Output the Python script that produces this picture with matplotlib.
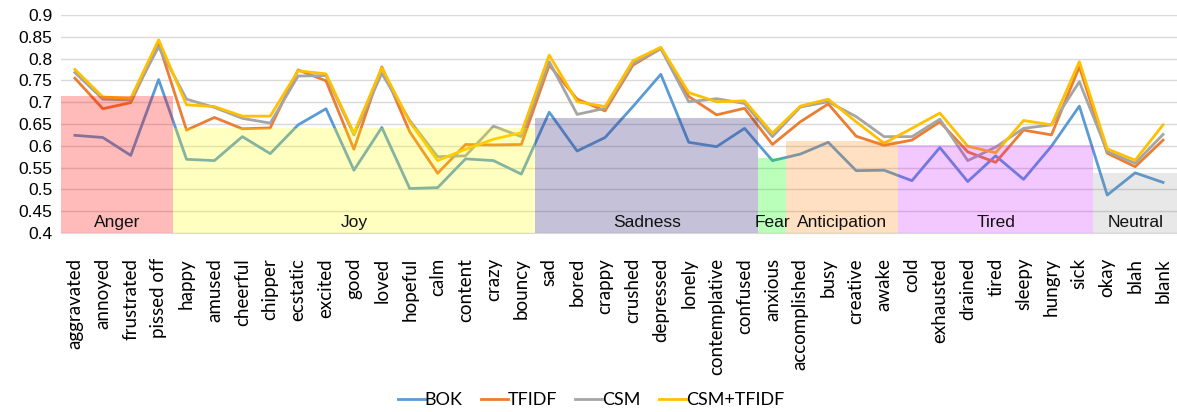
import matplotlib
matplotlib.use("Agg")
import matplotlib.pyplot as plt
from matplotlib.patches import Rectangle

categories = ["aggravated", "annoyed", "frustrated", "pissed off",
              "happy", "amused", "cheerful", "chipper", "ecstatic", "excited", "good", "loved",
              "hopeful", "calm", "content", "crazy", "bouncy",
              "sad", "bored", "crappy", "crushed", "depressed", "lonely", "contemplative", "confused",
              "anxious",
              "accomplished", "busy", "creative", "awake",
              "cold", "exhausted", "drained", "tired", "sleepy", "hungry", "sick",
              "okay", "blah", "blank"]

bok = [0.624, 0.619, 0.578, 0.752,
       0.569, 0.566, 0.621, 0.582, 0.648, 0.685, 0.544, 0.642,
       0.502, 0.504, 0.570, 0.566, 0.535,
       0.677, 0.588, 0.619, 0.690, 0.764, 0.608, 0.598, 0.640,
       0.566,
       0.581, 0.608, 0.543, 0.544,
       0.520, 0.596, 0.518, 0.577, 0.523, 0.599, 0.691,
       0.487, 0.538, 0.516]

tfidf = [0.755, 0.685, 0.699, 0.835,
         0.636, 0.665, 0.639, 0.641, 0.774, 0.749, 0.592, 0.781,
         0.632, 0.537, 0.603, 0.602, 0.603,
         0.785, 0.707, 0.680, 0.785, 0.823, 0.713, 0.671, 0.686,
         0.603,
         0.655, 0.696, 0.622, 0.601,
         0.613, 0.655, 0.586, 0.562, 0.636, 0.625, 0.781,
         0.583, 0.552, 0.613]

csm = [0.768, 0.707, 0.705, 0.827,
       0.707, 0.688, 0.663, 0.652, 0.760, 0.761, 0.625, 0.766,
       0.658, 0.575, 0.577, 0.645, 0.621,
       0.793, 0.672, 0.686, 0.789, 0.823, 0.701, 0.708, 0.697,
       0.621,
       0.689, 0.701, 0.667, 0.621,
       0.621, 0.661, 0.566, 0.597, 0.640, 0.648, 0.747,
       0.587, 0.560, 0.626]

csm_tfidf = [0.775, 0.712, 0.709, 0.843,
             0.694, 0.690, 0.668, 0.668, 0.772, 0.765, 0.629, 0.779,
             0.655, 0.566, 0.592, 0.615, 0.630,
             0.808, 0.701, 0.690, 0.795, 0.826, 0.722, 0.701, 0.703,
             0.629,
             0.691, 0.707, 0.655, 0.606,
             0.640, 0.675, 0.599, 0.584, 0.658, 0.648, 0.793,
             0.593, 0.567, 0.648]

groups = ["Anger", "Joy", "Sadness", "Fear", "Anticipation", "Tired", "Neutral"]
group_sizes = [4, 13, 8, 1, 4, 7, 3]
group_tops = [0.715, 0.641, 0.664, 0.573, 0.612, 0.601, 0.538]
group_colors = [((1.0, 0.0, 0.0), 0.27), ((1.0, 1.0, 0.0), 0.25), ((0.25, 0.2, 0.5), 0.30),
                ((0.0, 1.0, 0.0), 0.27), ((1.0, 0.5, 0.0), 0.24), ((0.8, 0.0, 1.0), 0.22),
                ((0.5, 0.5, 0.5), 0.18)]

series = [("BOK", bok, "#5B9BD5"), ("TFIDF", tfidf, "#ED7D31"),
          ("CSM", csm, "#A5A5A5"), ("CSM+TFIDF", csm_tfidf, "#FFC000")]

fig = plt.figure(figsize=(11.77, 4.12), dpi=100)
ax = fig.add_axes([0.0518, 0.4345, 0.9482, 0.5291])

x = list(range(len(categories)))
handles = []
for name, vals, col in series:
    h, = ax.plot(x, vals, color=col, lw=2.0, label=name, zorder=3, solid_joinstyle="round")
    handles.append(h)

start = 0
for g, n, top, (c, a) in zip(groups, group_sizes, group_tops, group_colors):
    ax.add_patch(Rectangle((start - 0.5, 0.4), n, top - 0.4, facecolor=c, alpha=a,
                           edgecolor="none", zorder=4))
    ax.text(start - 0.5 + n / 2, 0.4245, g, ha="center", va="center", fontsize=12.5,
            family="Liberation Sans", color="#111111", zorder=5)
    start += n

ax.set_xlim(-0.5, len(categories) - 0.5)
ax.set_ylim(0.4, 0.9)
ax.set_yticks([0.4 + 0.05 * i for i in range(11)])
ax.set_yticklabels(["0.4", "0.45", "0.5", "0.55", "0.6", "0.65", "0.7", "0.75", "0.8", "0.85", "0.9"],
                   family="Liberation Sans", fontsize=12.5)
ax.set_xticks(x)
ax.set_xticklabels(categories, rotation=90, family="Lato", fontsize=13.5, va="top")
ax.tick_params(axis="both", length=0)
ax.tick_params(axis="x", pad=18)
ax.tick_params(axis="y", pad=6)
ax.grid(axis="y", color="#D9D9D9", lw=1.0, zorder=0)
ax.set_axisbelow(True)
for s in ["top", "right", "left"]:
    ax.spines[s].set_visible(False)
ax.spines["bottom"].set_color("#D9D9D9")
ax.spines["bottom"].set_zorder(6)

fig.legend(handles=handles, loc="center", bbox_to_anchor=(0.502, 0.028), ncol=4, frameon=False,
           prop={"family": "Lato", "size": 13}, handlelength=1.5, handletextpad=0.0,
           columnspacing=1.0)

fig.savefig("out.png", dpi=100)
